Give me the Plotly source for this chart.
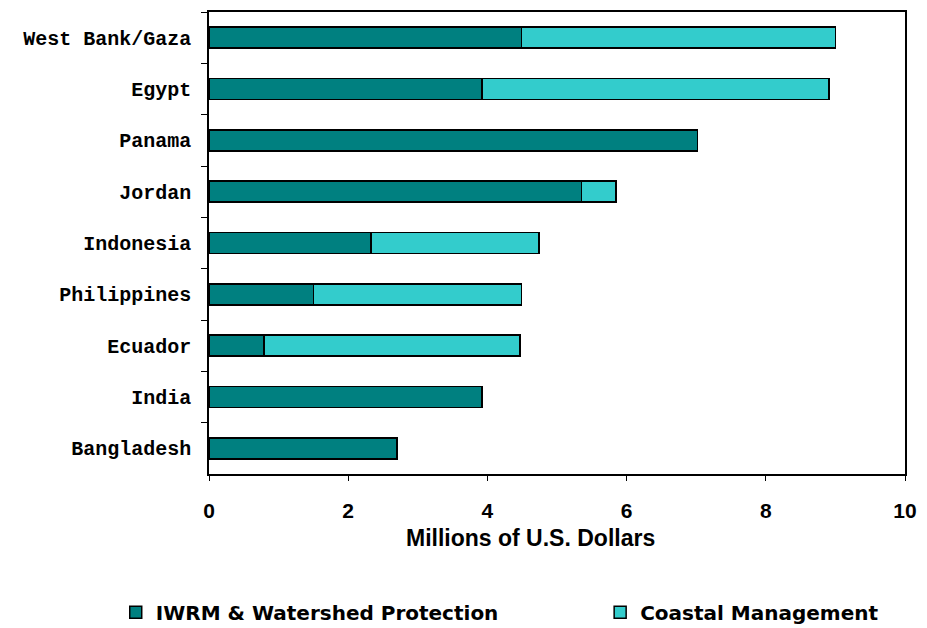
import plotly.graph_objects as go

countries = ["West Bank/Gaza", "Egypt", "Panama", "Jordan", "Indonesia",
             "Philippines", "Ecuador", "India", "Bangladesh"]
iwrm = [4.49, 3.92, 7.02, 5.35, 2.33, 1.50, 0.79, 3.92, 2.70]
coastal = [4.51, 4.99, 0, 0.50, 2.41, 2.99, 3.68, 0, 0]
x_ticks = [0, 2, 4, 6, 8, 10]

DARK = "#008080"
LIGHT = "#33CCCC"

fig = go.Figure()
fig.add_trace(go.Bar(
    y=countries, x=iwrm, orientation="h", name="IWRM & Watershed Protection",
    marker=dict(color=DARK, line=dict(color="black", width=1.5)), width=0.41,
    legend="legend",
))
fig.add_trace(go.Bar(
    y=countries, x=coastal, orientation="h", name="Coastal Management",
    marker=dict(color=LIGHT, line=dict(color="black", width=1.5)), width=0.41,
    legend="legend2",
))

legend_font = dict(family="DejaVu Sans", size=20, color="black", weight="bold")

fig.update_layout(
    barmode="stack",
    width=927, height=628,
    margin=dict(l=209, r=17, t=10, b=154),
    paper_bgcolor="white", plot_bgcolor="white",
    showlegend=True,
    legend=dict(
        orientation="h", x=-0.134, y=0.025, yref="container",
        xanchor="left", yanchor="middle", font=legend_font,
    ),
    legend2=dict(
        orientation="h", x=0.562, y=0.025, yref="container",
        xanchor="left", yanchor="middle", font=legend_font,
    ),
    xaxis=dict(
        range=[0, 10], tickvals=x_ticks, ticktext=[str(v) for v in x_ticks],
        showgrid=False, zeroline=False,
        showline=True, linecolor="black", linewidth=1.5, mirror=True,
        ticks="outside", ticklen=5, tickcolor="black", tickwidth=1,
        ticklabelstandoff=12,
        tickfont=dict(family="Liberation Sans", size=21, color="black", weight="bold"),
    ),
    yaxis=dict(
        categoryorder="array", categoryarray=countries, autorange="reversed",
        showgrid=False, zeroline=False,
        showline=True, linecolor="black", linewidth=1.5, mirror=True,
        ticks="outside", ticklen=6, tickcolor="black", tickwidth=1,
        tickson="boundaries", ticklabelstandoff=12,
        tickfont=dict(family="Liberation Mono", size=20, color="black", weight="bold"),
    ),
    annotations=[dict(
        text="<b>Millions of U.S. Dollars</b>", xref="paper", yref="paper",
        x=0.4615, y=-0.139, xanchor="center", yanchor="middle", showarrow=False,
        font=dict(family="Liberation Sans", size=23, color="black"),
    )],
)

fig.write_html("out.html")
